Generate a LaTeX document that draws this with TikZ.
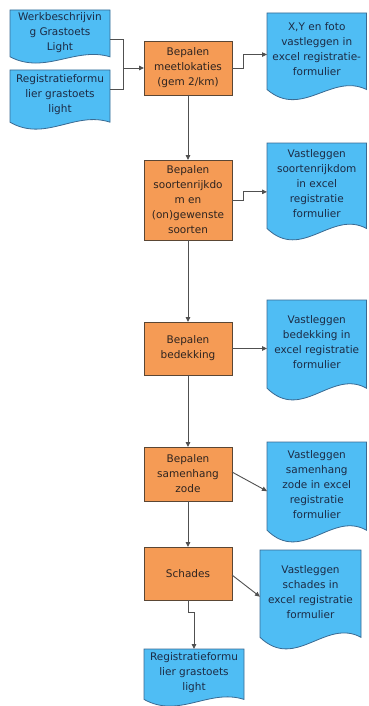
\documentclass[tikz,border=0pt]{standalone}
\usepackage{fontspec}
\setmainfont{DejaVu Sans}
\usetikzlibrary{arrows.meta,calc}
\definecolor{procfill}{HTML}{F59B55}
\definecolor{procline}{HTML}{5A4634}
\definecolor{docfill}{HTML}{4FBDF4}
\definecolor{docline}{HTML}{3A6A92}
\definecolor{doctxt}{HTML}{1C2B45}
\definecolor{proctxt}{HTML}{2E2420}
\definecolor{conn}{HTML}{505050}
\tikzset{
  proc/.style={draw=procline, fill=procfill, line width=0.8pt, minimum width=88pt,
    inner sep=0pt, outer sep=0pt, align=center, text=proctxt,
    font=\fontsize{10.5}{15}\selectfont},
  docshape/.style={draw=docline, fill=docfill, line width=0.8pt},
  doctext/.style={inner sep=0pt, outer sep=0pt, align=center, text=doctxt,
    font=\fontsize{10.5}{15}\selectfont},
  conarrow/.style={draw=conn, line width=0.9pt, -{Triangle[length=5pt,width=4.5pt]}},
  conline/.style={draw=conn, line width=0.9pt}
}
% name, L, T, R, B, text
\newcommand\rsdocnode[6]{%
  \pgfmathsetmacro\rsH{#5-#3}%
  \path[docshape] (#2,#3) -- (#4,#3) -- (#4,{#5-0.1*\rsH})
    .. controls ({#4-0.35*(#4-#2)},{#5-0.3*\rsH}) and ({#2+0.35*(#4-#2)},{#5+0.25*\rsH}) ..
    (#2,{#5-0.1*\rsH}) -- cycle;
  \node[doctext, minimum width={#4-#2}, minimum height={0.86*\rsH}] (#1)
    at ({(#2+#4)/2},{#3+0.43*\rsH}) {#6};
}
\begin{document}
\begin{tikzpicture}[x=1pt,y=-1pt]
\useasboundingbox (0,0) rectangle (368,706);

% left input documents
\rsdocnode{d1}{10}{10}{110}{62}{Werkbeschrijvin\\g Grastoets\\Light}
\rsdocnode{d2}{10}{70}{110}{128}{Registratieformu\\lier grastoets\\light}

% process steps
\node[proc, minimum height=54pt] (p1) at (188,68) {Bepalen\\meetlokaties\\(gem 2/km)};
\node[proc, minimum height=80pt] (p2) at (188,200) {Bepalen\\soortenrijkdo\\m en\\(on)gewenste\\soorten};
\node[proc, minimum height=53pt] (p3) at (188,348.5) {Bepalen\\bedekking};
\node[proc, minimum height=54pt] (p4) at (188,474) {Bepalen\\samenhang\\zode};
\node[proc, minimum height=53pt] (p5) at (188,573.5) {Schades};

% output documents
\rsdocnode{r1}{267}{13}{366.5}{98}{X,Y en foto\\vastleggen in\\excel registratie-\\formulier}
\rsdocnode{r2}{267}{143}{366.5}{238}{Vastleggen\\soortenrijkdom\\in excel\\registratie\\formulier}
\rsdocnode{r3}{267}{300}{366.5}{398}{Vastleggen\\bedekking in\\excel registratie\\formulier}
\rsdocnode{r4}{267}{442}{366.5}{540}{Vastleggen\\samenhang\\zode in excel\\registratie\\formulier}
\rsdocnode{r5}{260}{550}{361}{647}{Vastleggen\\schades in\\excel registratie\\formulier}
\rsdocnode{d3}{144}{649}{244}{705}{Registratieformu\\lier grastoets\\light}

% inputs to p1
\coordinate (j1) at (123,68);
\draw[conline] ([yshift=-7pt]d1.east) -| (j1);
\draw[conline] ([yshift=5pt]d2.east) -| (j1);
\draw[conarrow] (j1) -- (p1.west);

% main flow
\draw[conarrow] (p1.south) -- (p2.north);
\draw[conarrow] (p2.south) -- (p3.north);
\draw[conarrow] (p3.south) -- (p4.north);
\draw[conarrow] (p4.south) -- (p5.north);
\draw[conarrow] (p5.south) -- ++(0,12) -| (d3.north);

% outputs
\draw[conarrow] (p1.east) -- ++(11,0) |- ([yshift=-5pt]r1.west);
\draw[conarrow] (p2.east) -- ++(11,0) |- ([yshift=-8pt]r2.west);
\draw[conarrow] (p3.east) -- (p3.east -| r3.west);
\draw[conarrow] ([yshift=2pt]p4.east) -- ([yshift=-7pt]r4.west);
\draw[conarrow] ([yshift=-1.5pt]p5.east) -- ([yshift=-5pt]r5.west);
\end{tikzpicture}
\end{document}
